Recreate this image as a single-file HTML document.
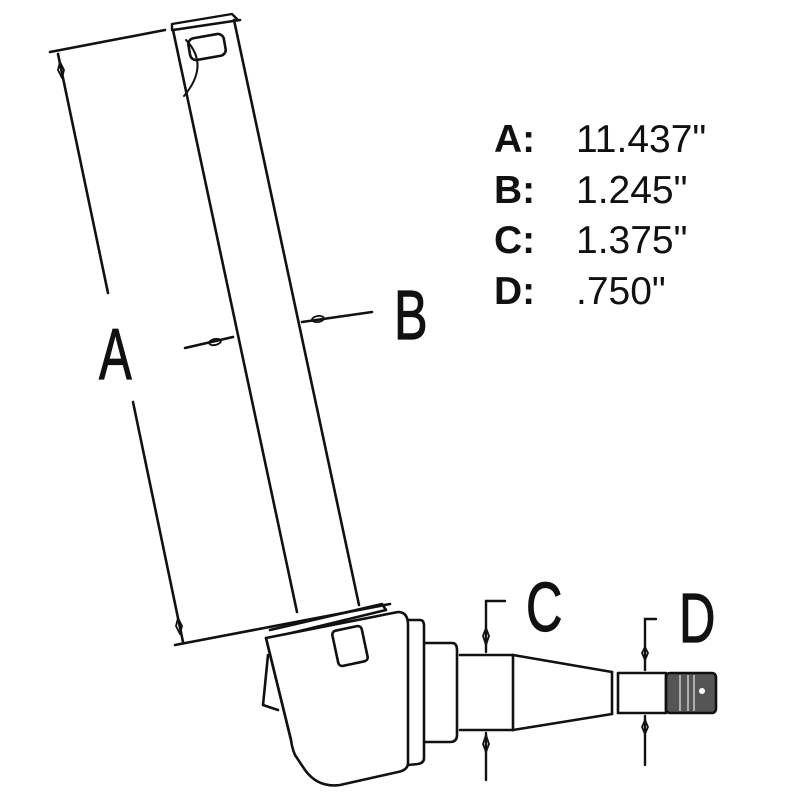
<!DOCTYPE html>
<html><head><style>
html,body{margin:0;padding:0;background:#fff;}
svg{display:block;}
</style></head><body>
<svg width="800" height="800" viewBox="0 0 800 800" xmlns="http://www.w3.org/2000/svg">
<g stroke="#111" stroke-width="2.6" fill="none" stroke-linecap="round" stroke-linejoin="round">
<!-- arm -->
<line x1="173" y1="30" x2="297" y2="612"/>
<line x1="234" y1="20" x2="359" y2="605"/>
<path d="M172 30 L172 24 L232 14 L238 20" stroke-width="2.4"/>
<line x1="173" y1="30" x2="240" y2="20"/>
<rect x="189" y="36" width="36" height="22" rx="6" transform="rotate(-10 207 47)"/>
<path d="M186 40 Q210 65 184 96" stroke-width="2"/>
<!-- A dimension -->
<line x1="50" y1="52" x2="165" y2="30"/>
<line x1="58" y1="54" x2="108" y2="293"/>
<line x1="133" y1="402" x2="183" y2="642"/>
<line x1="175" y1="645" x2="390" y2="604"/>
<path d="M60 62 L64 70 L62 78 L58 70 Z" stroke-width="1.8"/>
<path d="M178 618 L182 626 L180 634 L176 626 Z" stroke-width="1.8"/>
<!-- B dimension -->
<line x1="185" y1="348" x2="233" y2="337"/>
<line x1="302" y1="322" x2="372" y2="312"/>
<ellipse cx="215" cy="342" rx="6" ry="3" transform="rotate(-12 215 342)" stroke-width="1.8"/>
<ellipse cx="318" cy="319" rx="6" ry="3" transform="rotate(-8 318 319)" stroke-width="1.8"/>
<!-- base body -->
<path d="M270 630 L382 604 L386 610 L275 637"/>
<path d="M266 638 L398 612 Q408 612 408 625 L408 763 Q408 770 398 772 L340 785 Q318 788 305 770 L295 755 Q292 748 291 740 Z" fill="#fff"/>
<path d="M268 655 L263 705 L278 710"/>
<line x1="266" y1="638" x2="291" y2="740"/>
<rect x="335" y="628" width="30" height="36" rx="4" transform="rotate(-12 350 646)"/>
<!-- flange -->
<path d="M408 620 L420 620 Q424 620 424 626 L424 758 Q424 763 418 764 L408 765"/>
<!-- hub -->
<path d="M425 643 L452 643 Q457 643 457 650 L457 735 Q457 742 450 742 L425 742"/>
<!-- shaft -->
<line x1="460" y1="655" x2="513" y2="655"/>
<line x1="460" y1="730" x2="513" y2="730"/>
<line x1="513" y1="655" x2="513" y2="730"/>
<line x1="513" y1="655" x2="612" y2="672"/>
<line x1="513" y1="730" x2="612" y2="714"/>
<line x1="612" y1="672" x2="612" y2="714"/>
<rect x="618" y="673" width="48" height="40"/>
</g>
<rect x="666" y="673" width="50" height="40" rx="4" fill="#555" stroke="#111" stroke-width="2.6"/>
<g stroke="#ccc" stroke-width="1.5"><line x1="680" y1="675" x2="680" y2="711"/><line x1="688" y1="675" x2="688" y2="711"/><line x1="694" y1="675" x2="694" y2="711"/></g>
<circle cx="702" cy="691" r="3" fill="#fff"/>
<g stroke="#111" stroke-width="2.4" fill="none" stroke-linecap="round">
<!-- C dimension -->
<path d="M505 601 L486 601 L486 652"/>
<path d="M486 628 L489 636 L486 645 L483 636 Z" stroke-width="1.8"/>
<path d="M486 735 L489 744 L486 752 L483 744 Z" stroke-width="1.8"/>
<line x1="486" y1="733" x2="486" y2="780"/>
<!-- D dimension -->
<path d="M656 619 L645 619 L645 670"/>
<path d="M645 647 L648 653 L645 660 L642 653 Z" stroke-width="1.8"/>
<path d="M645 720 L648 727 L645 734 L642 727 Z" stroke-width="1.8"/>
<line x1="645" y1="716" x2="645" y2="765"/>
</g>
<g font-family="'Liberation Sans', sans-serif" fill="#111" stroke="#111" stroke-width="1.2">
<text x="0" y="0" font-size="72" transform="translate(99 379) scale(0.68 1)">A</text>
<text x="0" y="0" font-size="70" transform="translate(394 339) scale(0.72 1)">B</text>
<text x="0" y="0" font-size="70" transform="translate(526 631) scale(0.72 1)">C</text>
<text x="0" y="0" font-size="70" transform="translate(679 642) scale(0.72 1)">D</text>
</g>
<g font-family="'Liberation Sans', sans-serif" fill="#111" font-size="39">
<text x="494" y="152" font-weight="bold">A:</text><text x="576" y="152">11.437"</text>
<text x="494" y="203" font-weight="bold">B:</text><text x="576" y="203">1.245"</text>
<text x="494" y="253" font-weight="bold">C:</text><text x="576" y="253">1.375"</text>
<text x="494" y="304" font-weight="bold">D:</text><text x="576" y="304">.750"</text>
</g>
</svg>
</body></html>
